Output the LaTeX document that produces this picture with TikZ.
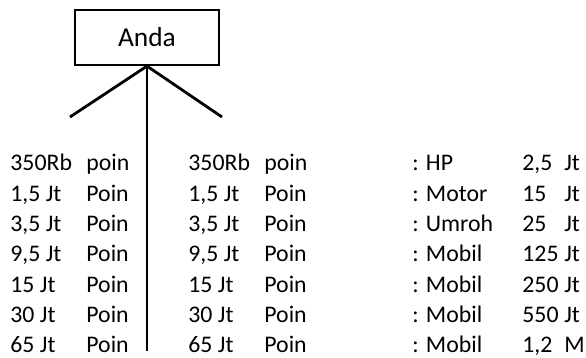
\documentclass[tikz,border=0pt]{standalone}
\usepackage{fontspec}
\setmainfont{Carlito}
\begin{document}
\begin{tikzpicture}[x=0.5pt, y=-0.5pt,
  every node/.style={inner sep=0pt, font=\fontsize{11.9}{14}\selectfont},
  teks/.style={anchor=base west}
]
\tikzset{
  kotak/.style={draw=black, line width=1.1pt, minimum width=72pt, minimum height=27.5pt,
    font=\fontsize{13.7}{16}\selectfont},
  cabang/.style={draw=black, line width=1.4pt},
  batang/.style={draw=black, line width=1pt}
}
\useasboundingbox (0,0) rectangle (586,358);

\node[kotak] (anda) at (147,37.5) {Anda};
\coordinate (kiri) at (70,117);
\coordinate (kanan) at (222,117);
\coordinate (bawah) at (147,351);
\draw[cabang] (kiri) -- (anda.south) -- (kanan);
\draw[batang] (anda.south) -- (bawah);

\foreach \nilai/\poin/\hadiah/\harga/\satuan [count=\i] in {
  350Rb/poin/HP/{2,5}/Jt, {1,5 Jt}/Poin/Motor/15/Jt, {3,5 Jt}/Poin/Umroh/25/Jt,
  {9,5 Jt}/Poin/Mobil/125/Jt, 15 Jt/Poin/Mobil/250/Jt, 30 Jt/Poin/Mobil/550/Jt,
  65 Jt/Poin/Mobil/{1,2}/M} {
  \pgfmathsetmacro\y{171+30.3*(\i-1)}
  \node[teks] (a\i) at (10,\y) {\nilai};
  \node[teks] (b\i) at (86,\y) {\poin};
  \node[teks] (c\i) at (188,\y) {\nilai};
  \node[teks] (d\i) at (264,\y) {\poin};
  \node[teks] (e\i) at (412,\y) {: \hadiah};
  \node[teks] (f\i) at (522,\y) {\harga};
  \node[teks] (g\i) at (564,\y) {\satuan};
}
\end{tikzpicture}
\end{document}
